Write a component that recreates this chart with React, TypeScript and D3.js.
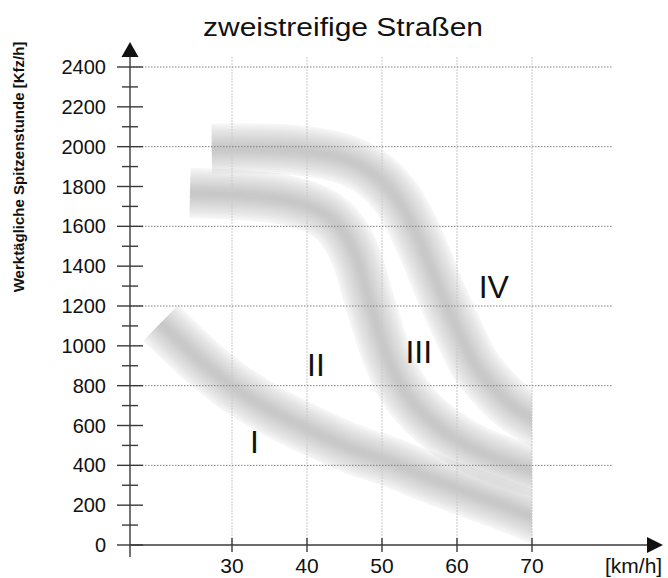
import React from "react";
import * as d3 from "d3";

const yTicks = [0, 200, 400, 600, 800, 1000, 1200, 1400, 1600, 1800, 2000, 2200, 2400];
const yMinorTicks = [100, 300, 500, 700, 900, 1100, 1300, 1500, 1700, 1900, 2100, 2300];
const yGrid = [400, 800, 1200, 1600, 2000, 2400];
const xTicks = [30, 40, 50, 60, 70];

// Centerlines of the shaded bands (speed km/h, volume Kfz/h)
const bandIX = [20.5, 25.7, 30, 35.1, 40.4, 45.7, 51.1, 56.4, 61.7, 67.1, 71.7];
const bandIY = [1115, 929, 798, 678, 577, 487, 417, 336, 261, 186, 115];
const bandIIX = [24.4, 31.1, 36.4, 40.4, 43.1, 45.1, 46.7, 47.9, 49.1, 50.4, 52.1, 54.4, 57.7, 61.7, 65.7, 71.7];
const bandIIY = [1767, 1757, 1737, 1697, 1642, 1556, 1431, 1280, 1130, 979, 828, 703, 587, 492, 427, 356];
const bandIIIX = [27.3, 33.7, 39.1, 44.4, 48.4, 51.7, 54.1, 56.1, 58.0, 60.1, 62.4, 65.1, 67.7, 71.7];
const bandIIIY = [1990, 1990, 1980, 1945, 1875, 1755, 1600, 1430, 1255, 1080, 905, 780, 690, 600];

const zoneLabels = ["I", "II", "III", "IV"];
const zoneX = [33.0, 41.2, 54.9, 64.9];
const zoneY = [519, 904, 970, 1296];

const title = "zweistreifige Straßen";
const yLabel = "Werktägliche Spitzenstunde [Kfz/h]";
const xUnit = "[km/h]";

const FONT = "'Liberation Sans', Arial, Helvetica, sans-serif";

export default function App() {
  const W = 668, H = 578;
  const x = d3.scaleLinear().domain([30, 70]).range([232, 532]);
  const y = d3.scaleLinear().domain([0, 2400]).range([545, 67]);
  const axisX = 130;
  const axisY = y(0);

  const line = d3
    .line<[number, number]>()
    .x((d) => x(d[0]))
    .y((d) => y(d[1]))
    .curve(d3.curveCatmullRom.alpha(0.5));

  const bands = [
    d3.zip(bandIX, bandIY) as [number, number][],
    d3.zip(bandIIX, bandIIY) as [number, number][],
    d3.zip(bandIIIX, bandIIIY) as [number, number][],
  ];

  const layers = d3.range(12).map((i) => 50 - i * 4.1);

  return (
    <svg width={W} height={H} style={{ display: "block", position: "absolute", left: 0, top: 0 }}>
      <defs>
        <clipPath id="plotclip">
          <rect x={0} y={0} width={x(70)} height={H} />
        </clipPath>
      </defs>
      <rect width={W} height={H} fill="#ffffff" />

      {/* bands */}
      <g clipPath="url(#plotclip)">
        {bands.map((b, bi) => (
          <g key={bi}>
            {layers.map((w, li) => (
              <path
                key={li}
                d={line(b) || ""}
                fill="none"
                stroke="#8c8c8c"
                strokeOpacity={li === 0 ? 0.09 : 0.045}
                strokeWidth={w}
                strokeLinecap="butt"
              />
            ))}
          </g>
        ))}
      </g>

      {/* vertical grid */}
      {xTicks.map((t) => (
        <line key={"vg" + t} x1={x(t)} x2={x(t)} y1={57} y2={axisY} stroke="#c8c8c8" strokeWidth={1} strokeDasharray="2,1" />
      ))}
      {/* horizontal grid */}
      {yGrid.map((t) => (
        <line key={"hg" + t} x1={axisX} x2={612} y1={y(t)} y2={y(t)} stroke="#808080" strokeWidth={1} strokeDasharray="1.5,1.5" />
      ))}

      {/* y axis */}
      <line x1={axisX} x2={axisX} y1={557} y2={55} stroke="#3a3a3a" strokeWidth={1.4} />
      <path d={`M${axisX},42 L${axisX - 8.5},57 L${axisX + 8.5},57 Z`} fill="#111" />
      {yTicks.map((t) => (
        <line key={"yt" + t} x1={117} x2={143} y1={y(t)} y2={y(t)} stroke="#3a3a3a" strokeWidth={1.4} />
      ))}
      {yMinorTicks.map((t) => (
        <line key={"ym" + t} x1={122} x2={138} y1={y(t)} y2={y(t)} stroke="#3a3a3a" strokeWidth={1.4} />
      ))}
      {yTicks.map((t) => (
        <text key={"yl" + t} x={106} y={y(t) + 7} textAnchor="end" fontFamily={FONT} fontSize={20} fill="#111">
          {t}
        </text>
      ))}

      {/* x axis */}
      <line x1={axisX} x2={650} y1={axisY} y2={axisY} stroke="#3a3a3a" strokeWidth={1.4} />
      <path d={`M663,${axisY} L647,${axisY - 8} L647,${axisY + 8} Z`} fill="#111" />
      {xTicks.map((t) => (
        <line key={"xt" + t} x1={x(t)} x2={x(t)} y1={axisY - 7} y2={axisY + 7} stroke="#3a3a3a" strokeWidth={1.4} />
      ))}
      {xTicks.map((t) => (
        <text key={"xl" + t} x={x(t)} y={573} textAnchor="middle" fontFamily={FONT} fontSize={21} fill="#111">
          {t}
        </text>
      ))}
      <text x={605} y={573} fontFamily={FONT} fontSize={21} fill="#111">
        {xUnit}
      </text>

      {/* zone labels */}
      {zoneLabels.map((l, i) => (
        <text key={l} x={x(zoneX[i])} y={y(zoneY[i]) + 11} textAnchor="middle" fontFamily={FONT} fontSize={32} fill="#111">
          {l}
        </text>
      ))}

      {/* title */}
      <text x={343} y={36} textAnchor="middle" fontFamily={FONT} fontSize={25} fill="#111" textLength={280} lengthAdjust="spacingAndGlyphs">
        {title}
      </text>

      {/* y label */}
      <text
        transform={`translate(24,167) rotate(-90)`}
        textAnchor="middle"
        fontFamily={FONT}
        fontSize={15}
        fontWeight="bold"
        fill="#111"
      >
        {yLabel}
      </text>
    </svg>
  );
}
